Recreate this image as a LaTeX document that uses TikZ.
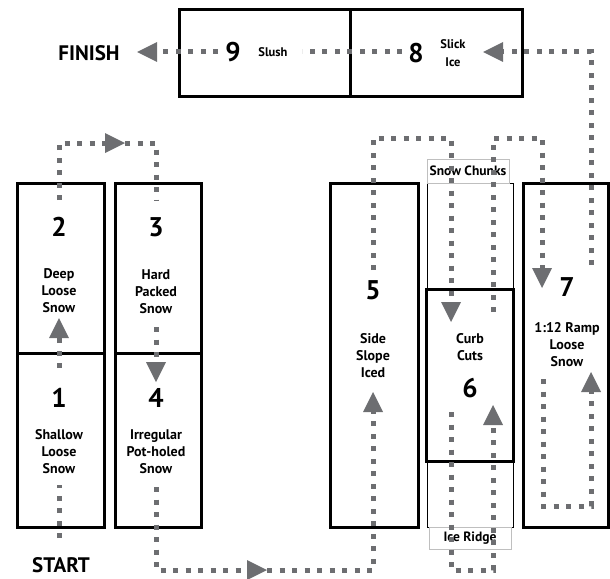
\documentclass[tikz,border=0pt]{standalone}
\usepackage{fontspec}
\setmainfont{PT Sans}
\usetikzlibrary{arrows.meta,positioning}
\definecolor{trailgray}{HTML}{6D6E71}
\begin{document}
\begin{tikzpicture}[x=1pt, y=-1pt,
  zone/.style={draw=black, line width=3pt, inner sep=0pt, minimum width=87pt},
  thinzone/.style={draw=black, line width=.9pt, inner sep=0pt},
  tag/.style={draw=black!25, line width=.8pt, fill=white, inner sep=0pt,
              font=\fontsize{13.5}{15}\selectfont\bfseries},
  num/.style={font=\fontsize{27}{27}\selectfont\bfseries},
  lab/.style={font=\fontsize{14}{17}\selectfont\bfseries, align=center},
  small/.style={font=\fontsize{12.5}{18}\selectfont\bfseries, align=center},
  goal/.style={font=\fontsize{21}{21}\selectfont\bfseries},
  trail/.style={draw=trailgray, line width=5pt, dash pattern=on 5pt off 7.5pt},
  tip/.style={-{Triangle[length=20pt, width=20pt, line width=0pt]}}
]
\useasboundingbox (0,0) rectangle (610,578);

% the surfaces
\node[zone, minimum height=170pt] (zone2) at (60.5,268) {};
\node[zone, minimum height=174pt] (zone1) at (60.5,440) {};
\node[zone, minimum width=86pt, minimum height=170pt] (zone3) at (158,268) {};
\node[zone, minimum width=86pt, minimum height=174pt] (zone4) at (158,440) {};
\node[zone, minimum width=88pt, minimum height=344pt] (zone5) at (374,355) {};
\node[thinzone, minimum width=86pt, minimum height=344pt] (zone6out) at (470,355) {};
\node[zone, minimum height=172pt] (zone6) at (469.5,375) {};
\node[zone, minimum width=85pt, minimum height=344pt] (zone7) at (565.5,355) {};
\node[zone, minimum width=171pt, minimum height=86pt] (zone9) at (264.5,53) {};
\node[zone, minimum width=172pt, minimum height=86pt] (zone8) at (436,53) {};
\node[tag, minimum width=82pt, minimum height=24pt] (chunks) at (468,171) {Snow Chunks};
\node[tag, minimum width=82pt, minimum height=22pt] (ridge) at (470,538) {Ice Ridge};

% numbers and surface names
\node[num] (n1) at (59,398) {1};
\node[lab] (l1) at (59,452) {Shallow\\Loose\\Snow};
\node[num] (n2) at (59,227) {2};
\node[lab] (l2) at (59,291) {Deep\\Loose\\Snow};
\node[num] (n3) at (156,227) {3};
\node[lab] (l3) at (156,292) {Hard\\Packed\\Snow};
\node[num] (n4) at (156,398) {4};
\node[lab] (l4) at (156,452) {Irregular\\Pot-holed\\Snow};
\node[num] (n5) at (373,290) {5};
\node[lab] (l5) at (373,356) {Side\\Slope\\Iced};
\node[lab] (l6) at (470,347) {Curb\\Cuts};
\node[num] (n6) at (470,388) {6};
\node[num] (n7) at (567,287) {7};
\node[lab] (l7) at (567,345) {1:12 Ramp\\Loose\\Snow};
\node[num] (n8) at (416,53) {8};
\node[small] (l8) at (453,53) {Slick\\Ice};
\node[num] (n9) at (233,52) {9};
\node[small] (l9) at (273,52) {Slush};
\node[goal] (finish) at (89,53) {FINISH};
\node[goal] (start) at (61,565) {START};

% route points
\coordinate (a0) at (59,538);   \coordinate (a1) at (59,485);
\coordinate (b0) at (59,368);   \coordinate (b1) at (59,318);
\coordinate (c0) at (59,200);   \coordinate (c1) at (59,143);
\coordinate (c2) at (125,143);  \coordinate (c3) at (156,143);
\coordinate (c4) at (156,200);
\coordinate (d0) at (156,327);  \coordinate (d1) at (156,382);
\coordinate (e0) at (156,487);  \coordinate (e1) at (156,570);
\coordinate (e2) at (267,570);  \coordinate (e3) at (373,570);
\coordinate (e4) at (373,392);
\coordinate (f0) at (373,270);  \coordinate (f1) at (373,138);
\coordinate (f2) at (451,138);  \coordinate (f3) at (451,322);
\coordinate (g0) at (451,412);  \coordinate (g1) at (451,570);
\coordinate (g2) at (493,570);  \coordinate (g3) at (493,405);
\coordinate (h0) at (493,312);  \coordinate (h1) at (493,138);
\coordinate (h2) at (542,138);  \coordinate (h3) at (542,288);
\coordinate (i0) at (543,379);  \coordinate (i1) at (543,506);
\coordinate (i2) at (591,506);  \coordinate (i3) at (591,372);
\coordinate (j0) at (591,265);  \coordinate (j1) at (591,52);
\coordinate (j2) at (483,52);
\coordinate (k0) at (402,52);   \coordinate (k1) at (302,52);
\coordinate (m0) at (218,52);   \coordinate (m1) at (137,52);

% the route
\draw[trail] (a0) -- (a1);
\draw[trail,tip] (b0) -- (b1);
\draw[trail,tip] (c0) -- (c1) -- (c2);
\draw[trail] (c2) -- (c3) -- (c4);
\draw[trail,tip] (d0) -- (d1);
\draw[trail,tip] (e0) -- (e1) -- (e2);
\draw[trail,tip] (e2) -- (e3) -- (e4);
\draw[trail,tip] (f0) -- (f1) -- (f2) -- (f3);
\draw[trail,tip] (g0) -- (g1) -- (g2) -- (g3);
\draw[trail,tip] (h0) -- (h1) -- (h2) -- (h3);
\draw[trail,tip] (i0) -- (i1) -- (i2) -- (i3);
\draw[trail,tip] (j0) -- (j1) -- (j2);
\draw[trail] (k0) -- (k1);
\draw[trail,tip] (m0) -- (m1);
\end{tikzpicture}
\end{document}
